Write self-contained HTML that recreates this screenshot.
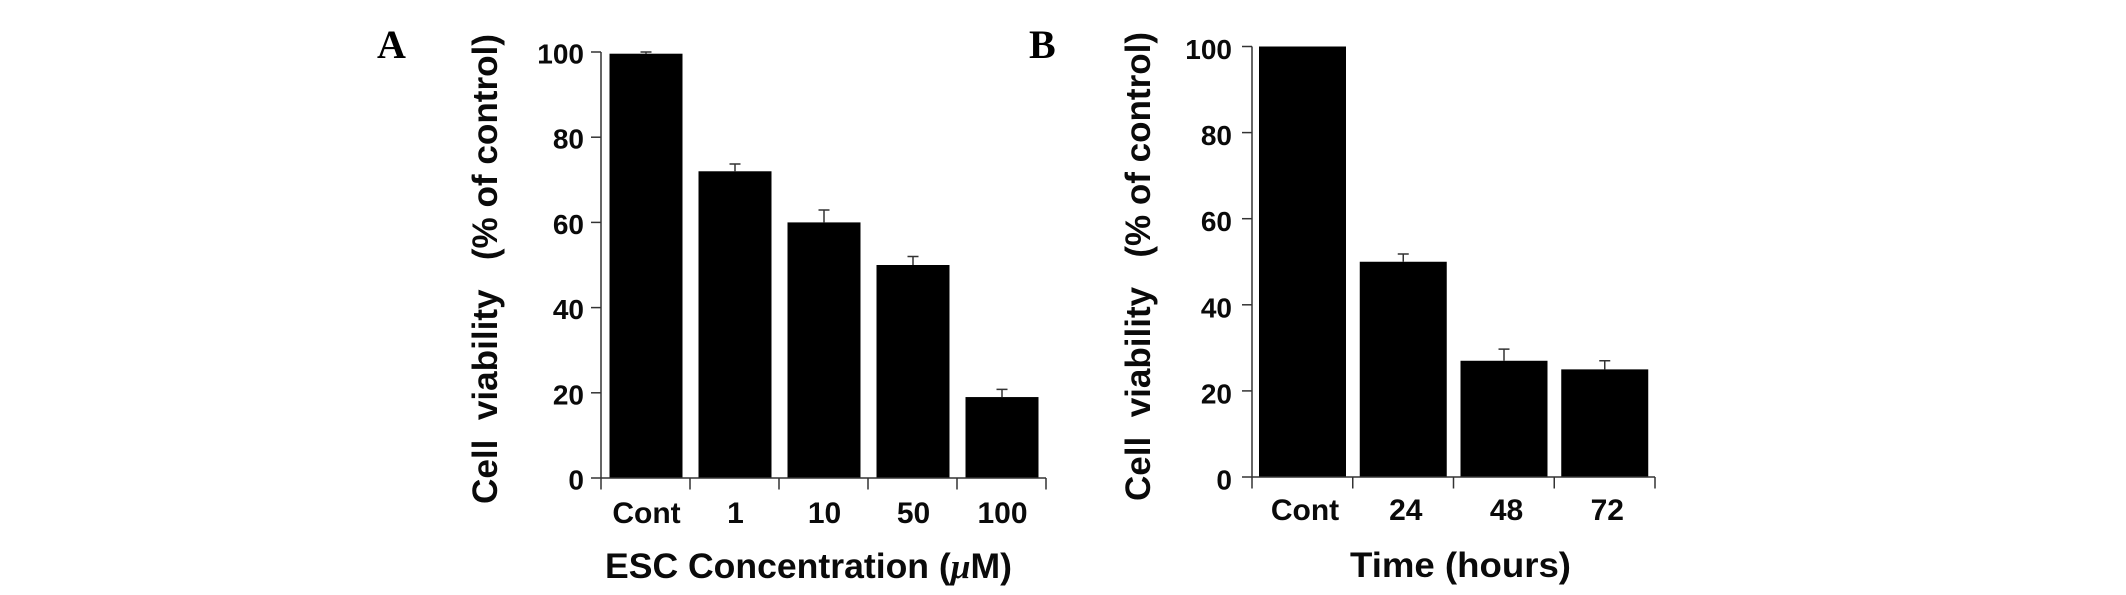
<!DOCTYPE html>
<html lang="en">
<head>
<meta charset="utf-8">
<title>Cell viability bar charts</title>
<style>
  html, body { margin: 0; padding: 0; background: #fff; }
  svg { display: block; }
  text { font-family: "Liberation Sans", sans-serif; font-weight: bold; fill: #0a0a0a; }
  .panel { font-family: "Liberation Serif", serif; font-size: 40px; fill: #000; }
  .title { font-size: 35px; }
  .ytick { font-size: 28px; }
  .xtick { font-size: 30px; }
</style>
</head>
<body>
<svg id="figure" xmlns="http://www.w3.org/2000/svg" width="2126" height="595" viewBox="0 0 2126 595">
  <rect width="2126" height="595" fill="#fff"/>
  <text class="panel" x="377" y="58">A</text>
  <text class="panel" x="1029" y="58">B</text>
  <text class="title" transform="translate(497,504) rotate(-90)" textLength="470" lengthAdjust="spacingAndGlyphs" xml:space="preserve">Cell  viability   (% of control)</text>
  <text class="title" transform="translate(1150,501) rotate(-90)" textLength="469" lengthAdjust="spacingAndGlyphs" xml:space="preserve">Cell  viability   (% of control)</text>
  <text class="title" x="605" y="578" textLength="407" lengthAdjust="spacingAndGlyphs">ESC Concentration (<tspan style="font-family:'Liberation Serif',serif;font-style:italic">μ</tspan>M)</text>
  <text class="title" x="1350" y="577" textLength="221" lengthAdjust="spacingAndGlyphs">Time (hours)</text>
</svg>
<script>
const tickLabels = [0, 20, 40, 60, 80, 100];
const categoriesA = ["Cont", "1", "10", "50", "100"];
const valuesA = [99.6, 72, 60, 50, 19];
const errorsA = [0.4, 1.7, 2.9, 2, 1.8];
const categoriesB = ["Cont", "24", "48", "72"];
const valuesB = [100, 50, 27, 25];
const errorsB = [0, 1.8, 2.7, 2];

const svg = document.getElementById('figure');
const NS = 'http://www.w3.org/2000/svg';

function make(tag, attrs, parent) {
  const el = document.createElementNS(NS, tag);
  for (const k in attrs) el.setAttribute(k, attrs[k]);
  parent.appendChild(el);
  return el;
}

function drawChart(cfg, categories, values, errors) {
  const group = make('g', {}, svg);
  
  
  const yScale = v => cfg.y0 + (cfg.y100 - cfg.y0) * v / 100;
  const xScale = i => cfg.x0 + cfg.step * i;
  const axisColor = '#333';

  values.forEach((v, i) => {
    const left = xScale(i) + cfg.barOffset;
    const bar = make('rect', { x: left, y: yScale(v), width: cfg.barWidth, height: cfg.y0 - yScale(v), fill: '#000' }, group);
    
    
    if (errors[i] > 0) {
      const cx = left + cfg.barWidth / 2;
      const top = yScale(v + errors[i]);
      const err = make('path', {
        d: 'M' + cx + ' ' + yScale(v) + 'V' + top + 'M' + (cx - 5.5) + ' ' + top + 'H' + (cx + 5.5),
        stroke: axisColor, 'stroke-width': 1.5, fill: 'none'
      }, group);
      
      
    }
    const label = make('text', { class: 'xtick', x: xScale(i) + cfg.labelOffset, y: cfg.y0 + cfg.labelDrop, 'text-anchor': 'middle' }, group);
    label.textContent = categories[i];
    
    
  });

  for (let i = 0; i <= categories.length; i++) {
    const t = make('line', { x1: xScale(i), x2: xScale(i), y1: cfg.y0, y2: cfg.y0 + 11.5, stroke: axisColor, 'stroke-width': 1.5 }, group);
    
    
  }

  tickLabels.forEach(v => {
    const t = make('line', { x1: cfg.x0 - 10, x2: cfg.x0, y1: yScale(v), y2: yScale(v), stroke: axisColor, 'stroke-width': 1.5 }, group);
    
    
    const label = make('text', { class: 'ytick', x: cfg.x0 - cfg.yLabelGap, y: yScale(v) + cfg.yLabelDrop, 'text-anchor': 'end' }, group);
    label.textContent = v;
    
    
  });

  const yAxis = make('line', { x1: cfg.x0, x2: cfg.x0, y1: yScale(100), y2: cfg.y0, stroke: axisColor, 'stroke-width': 1.5 }, group);
  
  
  const xAxis = make('line', { x1: cfg.x0, x2: xScale(categories.length), y1: cfg.y0, y2: cfg.y0, stroke: axisColor, 'stroke-width': 1.5 }, group);
  
  
}

drawChart({ id: 'a', x0: 601, step: 89, y0: 478, y100: 52, barOffset: 8.5, barWidth: 73, labelOffset: 45.5, labelDrop: 45, yLabelGap: 17, yLabelDrop: 11.5 }, categoriesA, valuesA, errorsA);
drawChart({ id: 'b', x0: 1252, step: 100.75, y0: 477, y100: 46.5, barOffset: 7, barWidth: 87, labelOffset: 53, labelDrop: 43, yLabelGap: 20, yLabelDrop: 12.5 }, categoriesB, valuesB, errorsB);
</script>
</body>
</html>
